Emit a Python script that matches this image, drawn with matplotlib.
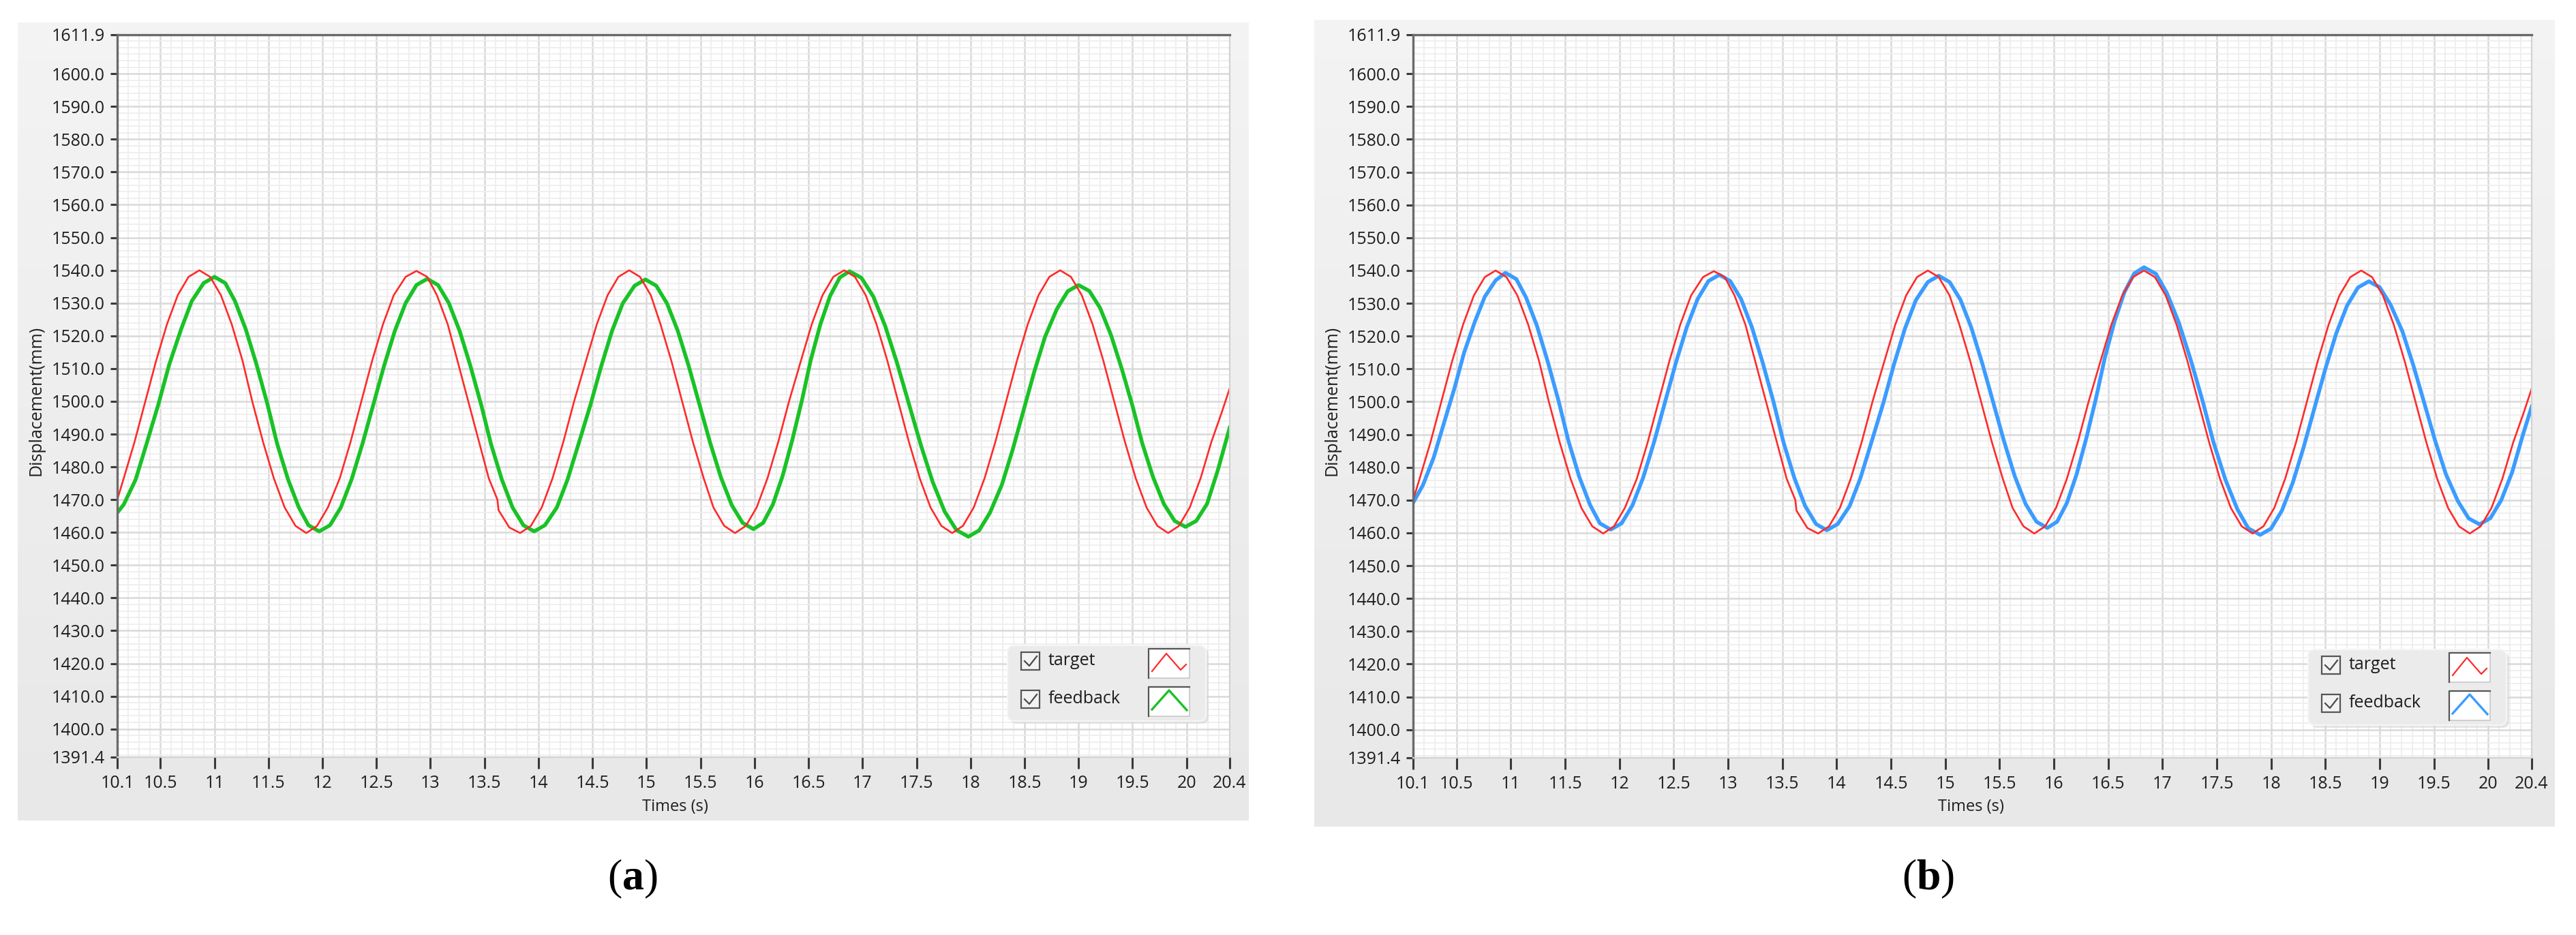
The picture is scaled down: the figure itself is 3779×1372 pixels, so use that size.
import numpy as np
import matplotlib.pyplot as plt
from matplotlib.patches import FancyBboxPatch, Rectangle

# ---- values ----
# target signal (red), the same set-point in both runs
target_t = [10.10, 10.16, 10.26, 10.36, 10.46, 10.56, 10.66, 10.76, 10.86,
            10.96, 11.06, 11.16, 11.26, 11.35, 11.45, 11.55, 11.65, 11.75, 11.85,
            11.95, 12.05, 12.16, 12.26, 12.36, 12.46, 12.56, 12.66, 12.77, 12.87,
            12.97, 13.06, 13.16, 13.25, 13.35, 13.45, 13.54, 13.62, 13.63, 13.73, 13.83,
            13.93, 14.03, 14.13, 14.23, 14.33, 14.44, 14.54, 14.64, 14.74, 14.84,
            14.94, 15.04, 15.13, 15.23, 15.33, 15.43, 15.53, 15.62, 15.72, 15.82,
            15.92, 16.02, 16.12, 16.22, 16.32, 16.43, 16.53, 16.63, 16.73, 16.83,
            16.93, 17.03, 17.13, 17.23, 17.33, 17.43, 17.53, 17.63, 17.73, 17.83,
            17.93, 18.03, 18.13, 18.23, 18.33, 18.43, 18.53, 18.63, 18.73, 18.83,
            18.93, 19.03, 19.13, 19.23, 19.33, 19.43, 19.53, 19.63, 19.73, 19.83,
            19.93, 20.03, 20.13, 20.23, 20.33, 20.40]
target_y = [1470.0, 1476.5, 1487.6, 1500.0, 1512.4, 1523.5, 1532.4, 1538.0, 1540.0,
            1538.0, 1532.4, 1523.5, 1512.4, 1500.0, 1487.6, 1476.5, 1467.6, 1462.0, 1459.8,
            1462.0, 1467.6, 1476.5, 1487.6, 1500.0, 1512.4, 1523.5, 1532.4, 1538.0, 1539.8,
            1538.0, 1532.4, 1523.5, 1512.4, 1500.0, 1487.6, 1476.5, 1470.0, 1466.8, 1461.5, 1459.8,
            1462.0, 1467.6, 1476.5, 1487.6, 1500.0, 1512.4, 1523.5, 1532.4, 1538.0, 1540.0,
            1538.0, 1532.4, 1523.5, 1512.4, 1500.0, 1487.6, 1476.5, 1467.6, 1462.0, 1459.8,
            1462.0, 1467.6, 1476.5, 1487.6, 1500.0, 1512.4, 1523.5, 1532.4, 1538.0, 1540.0,
            1538.0, 1532.4, 1523.5, 1512.4, 1500.0, 1487.6, 1476.5, 1467.6, 1462.0, 1459.8,
            1462.0, 1467.6, 1476.5, 1487.6, 1500.0, 1512.4, 1523.5, 1532.4, 1538.0, 1540.0,
            1538.0, 1532.4, 1523.5, 1512.4, 1500.0, 1487.6, 1476.5, 1467.6, 1462.0, 1459.8,
            1462.0, 1467.6, 1476.5, 1487.6, 1497.0, 1504.0]

# feedback of run (a), green
feedback_a_t = [10.10, 10.16, 10.27, 10.37, 10.48, 10.58, 10.69, 10.79, 10.90, 11.00,
                11.10, 11.19, 11.29, 11.39, 11.49, 11.58, 11.68, 11.78, 11.87, 11.97,
                12.07, 12.17, 12.27, 12.37, 12.47, 12.57, 12.67, 12.77, 12.87, 12.97,
                13.07, 13.17, 13.27, 13.37, 13.47, 13.56, 13.66, 13.76, 13.86, 13.96,
                14.06, 14.17, 14.27, 14.37, 14.48, 14.58, 14.68, 14.78, 14.89, 14.99,
                15.09, 15.19, 15.29, 15.39, 15.49, 15.59, 15.69, 15.79, 15.89, 15.99,
                16.08, 16.17, 16.26, 16.35, 16.44, 16.52, 16.61, 16.70, 16.79, 16.88,
                16.99, 17.10, 17.21, 17.32, 17.43, 17.54, 17.65, 17.76, 17.87, 17.98,
                18.08, 18.18, 18.29, 18.39, 18.49, 18.59, 18.69, 18.80, 18.90, 19.00,
                19.10, 19.20, 19.30, 19.40, 19.50, 19.59, 19.69, 19.79, 19.89, 19.99,
                20.09, 20.19, 20.29, 20.40]
feedback_a_y = [1466.0, 1468.5, 1476.1, 1486.9, 1499.0, 1511.1, 1521.9, 1530.6, 1536.1, 1538.0,
                1536.1, 1530.6, 1522.0, 1511.2, 1499.2, 1487.1, 1476.3, 1467.7, 1462.2, 1460.3,
                1462.2, 1467.6, 1476.2, 1487.0, 1498.9, 1510.8, 1521.5, 1530.0, 1535.5, 1537.4,
                1535.5, 1530.0, 1521.5, 1510.8, 1498.9, 1487.0, 1476.2, 1467.6, 1462.2, 1460.3,
                1462.2, 1467.6, 1476.2, 1486.9, 1498.8, 1510.6, 1521.4, 1529.9, 1535.3, 1537.2,
                1535.3, 1529.9, 1521.5, 1510.9, 1499.1, 1487.3, 1476.7, 1468.3, 1462.9, 1461.0,
                1462.9, 1468.5, 1477.2, 1488.2, 1500.4, 1512.5, 1523.5, 1532.2, 1537.8, 1539.7,
                1537.7, 1532.0, 1523.0, 1511.7, 1499.2, 1486.7, 1475.4, 1466.4, 1460.7, 1458.7,
                1460.6, 1466.0, 1474.5, 1485.2, 1497.1, 1509.0, 1519.7, 1528.2, 1533.6, 1535.5,
                1533.7, 1528.5, 1520.3, 1510.0, 1498.6, 1487.2, 1476.9, 1468.7, 1463.5, 1461.7,
                1463.5, 1468.7, 1479.0, 1492.0]

# feedback of run (b), blue
feedback_b_t = [10.10, 10.19, 10.29, 10.38, 10.48, 10.57, 10.67, 10.76, 10.86, 10.95,
                11.05, 11.14, 11.24, 11.34, 11.44, 11.53, 11.63, 11.73, 11.82, 11.92,
                12.02, 12.12, 12.22, 12.32, 12.42, 12.52, 12.62, 12.72, 12.82, 12.92,
                13.02, 13.12, 13.22, 13.32, 13.42, 13.51, 13.61, 13.71, 13.81, 13.91,
                14.01, 14.12, 14.22, 14.32, 14.43, 14.53, 14.63, 14.73, 14.84, 14.94,
                15.04, 15.14, 15.24, 15.34, 15.44, 15.54, 15.64, 15.74, 15.84, 15.94,
                16.03, 16.12, 16.21, 16.30, 16.39, 16.47, 16.56, 16.65, 16.74, 16.83,
                16.94, 17.04, 17.15, 17.26, 17.37, 17.47, 17.58, 17.69, 17.79, 17.90,
                18.00, 18.10, 18.20, 18.30, 18.40, 18.50, 18.60, 18.70, 18.80, 18.90,
                19.00, 19.10, 19.21, 19.31, 19.41, 19.51, 19.61, 19.72, 19.82, 19.92,
                20.02, 20.12, 20.22, 20.32, 20.40]
feedback_b_y = [1469.2, 1474.5, 1483.0, 1493.0, 1504.0, 1515.0, 1524.5, 1532.0, 1537.0, 1539.3,
                1537.4, 1531.8, 1523.2, 1512.2, 1500.2, 1488.1, 1477.1, 1468.5, 1462.9, 1461.0,
                1462.9, 1468.4, 1477.0, 1487.8, 1499.9, 1511.9, 1522.7, 1531.3, 1536.8, 1538.7,
                1536.8, 1531.3, 1522.7, 1511.8, 1499.8, 1487.7, 1476.8, 1468.2, 1462.7, 1460.8,
                1462.7, 1468.2, 1476.8, 1487.6, 1499.6, 1511.6, 1522.4, 1531.0, 1536.5, 1538.4,
                1536.5, 1531.1, 1522.6, 1511.8, 1500.0, 1488.1, 1477.3, 1468.8, 1463.4, 1461.5,
                1463.4, 1469.1, 1477.9, 1489.0, 1501.3, 1513.5, 1524.6, 1533.4, 1539.1, 1541.0,
                1539.0, 1533.2, 1524.2, 1512.8, 1500.2, 1487.6, 1476.2, 1467.2, 1461.4, 1459.4,
                1461.3, 1466.8, 1475.3, 1486.1, 1498.1, 1510.0, 1520.8, 1529.3, 1534.8, 1536.7,
                1534.9, 1529.6, 1521.4, 1511.1, 1499.7, 1488.2, 1477.9, 1469.7, 1464.4, 1462.6,
                1464.5, 1470.0, 1478.5, 1490.0, 1498.5]

x_ticks = [10.1, 10.5, 11, 11.5, 12, 12.5, 13, 13.5, 14, 14.5, 15, 15.5,
           16, 16.5, 17, 17.5, 18, 18.5, 19, 19.5, 20, 20.4]
x_tick_labels = ['10.1', '10.5', '11', '11.5', '12', '12.5', '13', '13.5', '14', '14.5', '15',
                 '15.5', '16', '16.5', '17', '17.5', '18', '18.5', '19', '19.5', '20', '20.4']
y_ticks = [1391.4, 1400, 1410, 1420, 1430, 1440, 1450, 1460, 1470, 1480, 1490, 1500,
           1510, 1520, 1530, 1540, 1550, 1560, 1570, 1580, 1590, 1600, 1611.9]
y_tick_labels = ['%.1f' % v for v in y_ticks]
x_range = (10.1, 20.4)
y_range = (1391.4, 1611.9)

series_names = ['target', 'feedback']
red = '#ff2a2a'
green = '#19c226'
blue = '#3b9cff'

plt.rcParams['font.family'] = ['Open Sans', 'DejaVu Sans']
plt.rcParams['mathtext.fontset'] = 'custom'
plt.rcParams['mathtext.rm'] = 'Liberation Serif'
plt.rcParams['mathtext.bf'] = 'Liberation Serif:bold'

W, H = 3779, 1372
fig = plt.figure(figsize=(W / 100, H / 100), dpi=100)
fig.patch.set_facecolor('white')

# background layer in pixel coordinates (gray LabVIEW panels)
bg = fig.add_axes([0, 0, 1, 1], zorder=0)
bg.axis('off')
shade = np.linspace(0.955, 0.91, 256)
shade = np.repeat(np.repeat(shade[:, None, None], 1, axis=1), 3, axis=2)
for x0, y0, x1, y1 in [(26, 33, 1832, 1204), (1928, 29, 3748, 1213)]:
    bg.imshow(shade, extent=(x0, x1, y1, y0), aspect='auto', interpolation='bilinear')
bg.set_xlim(0, W)
bg.set_ylim(H, 0)


def px_rect(l, t, r, b):
    return [l / W, 1 - b / H, (r - l) / W, (b - t) / H]


def setup(ax):
    ax.set_facecolor('white')
    ax.set_xlim(*x_range)
    ax.set_ylim(*y_range)
    ax.set_xticks(x_ticks)
    ax.set_xticklabels(x_tick_labels)
    ax.set_yticks(y_ticks)
    ax.set_yticklabels(y_tick_labels)
    ax.set_xticks(np.arange(102, 204) / 10, minor=True)
    ax.set_yticks(np.arange(1392, 1612, 2), minor=True)
    ax.grid(which='minor', color='#eeeeee', lw=1.3)
    ax.grid(which='major', color='#d9d9d9', lw=1.8)
    ax.set_axisbelow(True)
    ax.tick_params(which='minor', length=0)
    ax.tick_params(axis='y', which='major', length=7, width=2.2, color='#3a3a3a',
                   pad=6, labelsize=18, labelcolor='#1e1e1e')
    ax.tick_params(axis='x', which='major', length=12, width=2.2, color='#3a3a3a',
                   pad=7, labelsize=18, labelcolor='#1e1e1e')
    for side in ['left', 'top']:
        ax.spines[side].set_color('#6a6a6a')
        ax.spines[side].set_linewidth(2.4)
    for side in ['right', 'bottom']:
        ax.spines[side].set_color('#d2d2d2')
        ax.spines[side].set_linewidth(1.6)


ax_a = fig.add_axes(px_rect(172, 51, 1804, 1111), zorder=1)
ax_b = fig.add_axes(px_rect(2073, 51, 3714, 1112), zorder=1)
for ax in (ax_a, ax_b):
    setup(ax)

ax_a.plot(feedback_a_t, feedback_a_y, color=green, lw=4.0, solid_joinstyle='round')
ax_a.plot(target_t, target_y, color=red, lw=1.9, solid_joinstyle='round')
ax_b.plot(feedback_b_t, feedback_b_y, color=blue, lw=4.0, solid_joinstyle='round')
ax_b.plot(target_t, target_y, color=red, lw=1.9, solid_joinstyle='round')

# overlay layer in pixel coordinates: labels and LabVIEW-style legends
ov = fig.add_axes([0, 0, 1, 1], zorder=3)
ov.set_xlim(0, W)
ov.set_ylim(H, 0)
ov.axis('off')


def legend(dx, dy, feed_color):
    ov.add_patch(FancyBboxPatch((1482 + dx, 951 + dy), 291, 111,
                                boxstyle='round,pad=0,rounding_size=10',
                                facecolor='#d4d4d4', edgecolor='none', alpha=0.6))
    ov.add_patch(FancyBboxPatch((1478 + dx, 947 + dy), 291, 111,
                                boxstyle='round,pad=0,rounding_size=10',
                                facecolor='#ebebeb', edgecolor='#f6f6f6', lw=1.5))
    for row, (name, col) in enumerate(zip(series_names, [red, feed_color])):
        oy = row * 56
        ov.add_patch(Rectangle((1498 + dx, 957 + dy + oy), 27, 26, facecolor='#f2f2f2',
                               edgecolor='#555555', lw=1.6))
        ov.plot([1503 + dx, 1510 + dx, 1521 + dx],
                [970 + dy + oy, 977 + dy + oy, 963 + dy + oy], color='#4a4a4a', lw=1.6)
        ov.text(1538 + dx, 969 + dy + oy, name, fontsize=18, color='#1e1e1e',
                ha='left', va='center')
        ov.add_patch(Rectangle((1685 + dx, 952 + dy + oy), 60, 43, facecolor='white',
                               edgecolor='#c8c8c8', lw=1.2))
        ov.plot([1685 + dx, 1685 + dx, 1745 + dx],
                [995 + dy + oy, 952 + dy + oy, 952 + dy + oy], color='#555555', lw=1.6)
        if row == 0:
            ov.plot([1690 + dx, 1711 + dx, 1732 + dx, 1740 + dx],
                    [985 + dy, 959 + dy, 983 + dy, 975 + dy], color=col, lw=1.6)
        else:
            ov.plot([1690 + dx, 1715 + dx, 1741 + dx],
                    [1041 + dy, 1013 + dy, 1042 + dy], color=col, lw=2.4)


legend(0, 0, green)
legend(1908, 6, blue)

for dx, tag in [(0, 'a'), (1901, 'b')]:
    ov.text(53 + dx, 588, 'Displacement(mm)', rotation=90, fontsize=18, color='#1e1e1e',
            ha='center', va='center')
    ov.text(990 + dx, 1184, 'Times (s)', fontsize=17, color='#1e1e1e',
            ha='center', va='center')
    ov.text(928 + dx * 1.0, 1290, r'($\mathbf{%s}$)' % tag, fontsize=46,
            family='Liberation Serif', color='black', ha='center', va='center')

fig.savefig('out.png', dpi=100)
